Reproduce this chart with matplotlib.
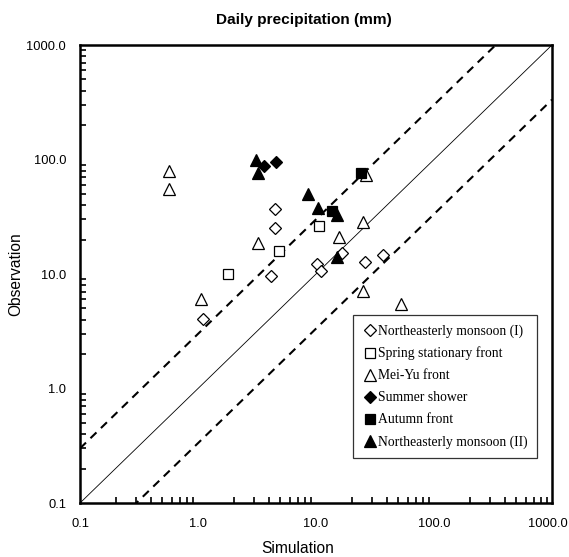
import numpy as np
import matplotlib
matplotlib.use('Agg')
import matplotlib.pyplot as plt
import matplotlib.transforms as mtransforms
from matplotlib.ticker import FixedLocator, FuncFormatter, LogLocator, NullFormatter

# 観測値とシミュレーション値 (mm)
ne1_sim = [4.5, 4.5, 16.5, 26.0, 10.1, 11.0, 4.16, 1.11, 37.0]
ne1_obs = [37.0, 25.4, 15.2, 12.8, 12.2, 10.7, 9.7, 4.05, 14.7]

spring_sim = [10.7, 4.89, 1.8]
spring_obs = [26.4, 15.9, 10.1]

meiyu_sim = [0.57, 0.57, 26.4, 25.2, 15.8, 3.2, 25.2, 1.06, 53.0]
meiyu_obs = [80.0, 55.0, 73.0, 28.6, 20.9, 18.5, 7.1, 6.1, 5.5]

summer_sim = [3.65, 4.58]
summer_obs = [88.0, 95.0]

autumn_sim = [23.9, 13.7]
autumn_obs = [77.0, 35.7]

ne2_sim = [3.08, 3.24, 8.5, 10.3, 15.0, 15.0]
ne2_obs = [99.0, 77.0, 50.0, 37.5, 32.7, 14.0]

line_x = [0.1, 1000.0]


def main():
    fig = plt.figure(figsize=(5.69, 5.57), dpi=100)
    ax = fig.add_axes([0.1406, 0.0969, 0.8295, 0.8223])

    # 1:1 と ±3倍の線
    ax.plot(line_x, line_x, color='black', lw=0.6)
    ax.plot(line_x, [v * 3 for v in line_x], color='black', lw=1.5, dashes=(4, 3))
    ax.plot(line_x, [v / 3 for v in line_x], color='black', lw=1.5, dashes=(4, 3))

    kw = dict(linestyle='none', markeredgecolor='black', markeredgewidth=0.9)
    ax.plot(ne1_sim, ne1_obs, marker='D', ms=6, mfc='white',
            label='Northeasterly monsoon (I)', **kw)
    ax.plot(spring_sim, spring_obs, marker='s', ms=7.5, mfc='white',
            label='Spring stationary front', **kw)
    ax.plot(meiyu_sim, meiyu_obs, marker='^', ms=9, mfc='white',
            label='Mei-Yu front', **kw)
    ax.plot(summer_sim, summer_obs, marker='D', ms=6, mfc='black',
            label='Summer shower', **kw)
    ax.plot(autumn_sim, autumn_obs, marker='s', ms=7.5, mfc='black',
            label='Autumn front', **kw)
    ax.plot(ne2_sim, ne2_obs, marker='^', ms=9, mfc='black',
            label='Northeasterly monsoon (II)', **kw)

    ax.set_xscale('log')
    ax.set_yscale('log')
    ax.set_xlim(0.1, 1000)
    ax.set_ylim(0.1, 1000)

    majors = [0.1, 1, 10, 100, 1000]
    fmt = FuncFormatter(lambda v, p: '%.1f' % v)
    for axis in (ax.xaxis, ax.yaxis):
        axis.set_major_locator(FixedLocator(majors))
        axis.set_major_formatter(fmt)
        axis.set_minor_locator(LogLocator(base=10, subs=np.arange(2, 10)))
        axis.set_minor_formatter(NullFormatter())
    ax.tick_params(which='both', direction='in', top=False, right=False,
                   labelsize=9.3)
    ax.tick_params(axis='x', which='major', length=0, pad=11)
    ax.tick_params(axis='y', which='major', length=0, pad=10)
    ax.tick_params(which='minor', length=4, width=1.2)
    for lab in ax.get_xticklabels() + ax.get_yticklabels():
        lab.set_family('Liberation Sans')

    # 右端の 1000.0 が切れないように少し左へ
    last = ax.get_xticklabels()[-1]
    last.set_transform(last.get_transform() +
                       mtransforms.ScaledTranslation(-4 / 100, 0, fig.dpi_scale_trans))

    for s in ax.spines.values():
        s.set_linewidth(1.8)

    ax.set_xlabel('Simulation', fontsize=11.2, family='Liberation Sans')
    ax.set_ylabel('Observation', fontsize=11.2, family='Liberation Sans')
    ax.xaxis.set_label_coords(0.462, -0.083)
    ax.yaxis.set_label_coords(-0.120, 0.5)
    fig.text(304 / 569, 1 - 20 / 557, 'Daily precipitation (mm)', fontsize=11.1,
             fontweight='bold', family='Liberation Sans', ha='center', va='center')

    leg = ax.legend(loc='lower right', bbox_to_anchor=(0.968, 0.098),
                    borderaxespad=0,
                    prop={'family': 'Liberation Serif', 'size': 9.8},
                    frameon=True, fancybox=False, edgecolor='black',
                    handlelength=1.1, handletextpad=0.05, markerscale=0.95,
                    borderpad=0.69, labelspacing=0.66)
    leg.get_frame().set_linewidth(0.9)

    plt.savefig('out.png', dpi=100)


if __name__ == '__main__':
    main()
